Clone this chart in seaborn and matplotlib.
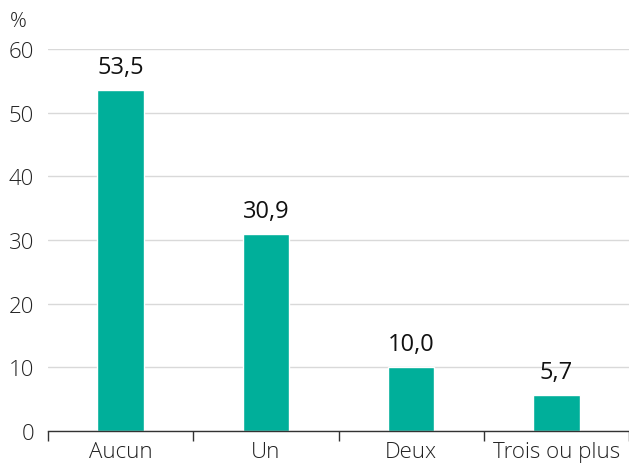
import numpy as np
import pandas as pd
import matplotlib.pyplot as plt
import seaborn as sns

categories = ["Aucun", "Un", "Deux", "Trois ou plus"]
values = [53.5, 30.9, 10.0, 5.7]
yticks = [0, 10, 20, 30, 40, 50, 60]

df = pd.DataFrame({"cat": categories, "val": values})

sns.set_style("white")
plt.rcParams["font.family"] = ["Open Sans", "DejaVu Sans"]
plt.rcParams["font.weight"] = "light"

fig = plt.figure(figsize=(6.29, 4.64), dpi=100)
ax = fig.add_axes([48 / 629, (464 - 432) / 464, (629 - 48) / 629, (432 - 50) / 464])

sns.barplot(data=df, x="cat", y="val", color="#00af9a", width=0.32,
            saturation=1, ax=ax, zorder=3)

ax.set_ylim(0, 60)
ax.set_xlim(-0.5, len(categories) - 0.5)
ax.set_yticks(yticks)
ax.set_yticklabels([str(t) for t in yticks])
ax.yaxis.grid(True, color="#d9d9d9", linewidth=1, zorder=0)
ax.set_xlabel("")
ax.set_ylabel("")

for s in ["left", "right", "top"]:
    ax.spines[s].set_visible(False)
ax.spines["bottom"].set_color("#333333")
ax.spines["bottom"].set_linewidth(1)
ax.spines["bottom"].set_zorder(4)

ax.tick_params(axis="y", length=0, labelsize=16, colors="#222222", pad=10)
ax.tick_params(axis="x", which="major", bottom=False, length=0, labelsize=16,
               colors="#222222", pad=7)
ax.set_xticks(np.arange(-0.5, len(categories), 1), minor=True)
ax.tick_params(axis="x", which="minor", bottom=True, length=7, width=1,
               color="#333333", direction="out")

for i, v in enumerate(values):
    ax.annotate(f"{v:.1f}".replace(".", ","), (i, v), xytext=(0, 8),
                textcoords="offset points", ha="center", va="bottom",
                fontsize=17, fontweight="normal", color="#111111")

fig.text(10 / 629, 1 - 22 / 464, "%", fontsize=15, color="#222222", va="center")

fig.savefig("out.png", dpi=100)
